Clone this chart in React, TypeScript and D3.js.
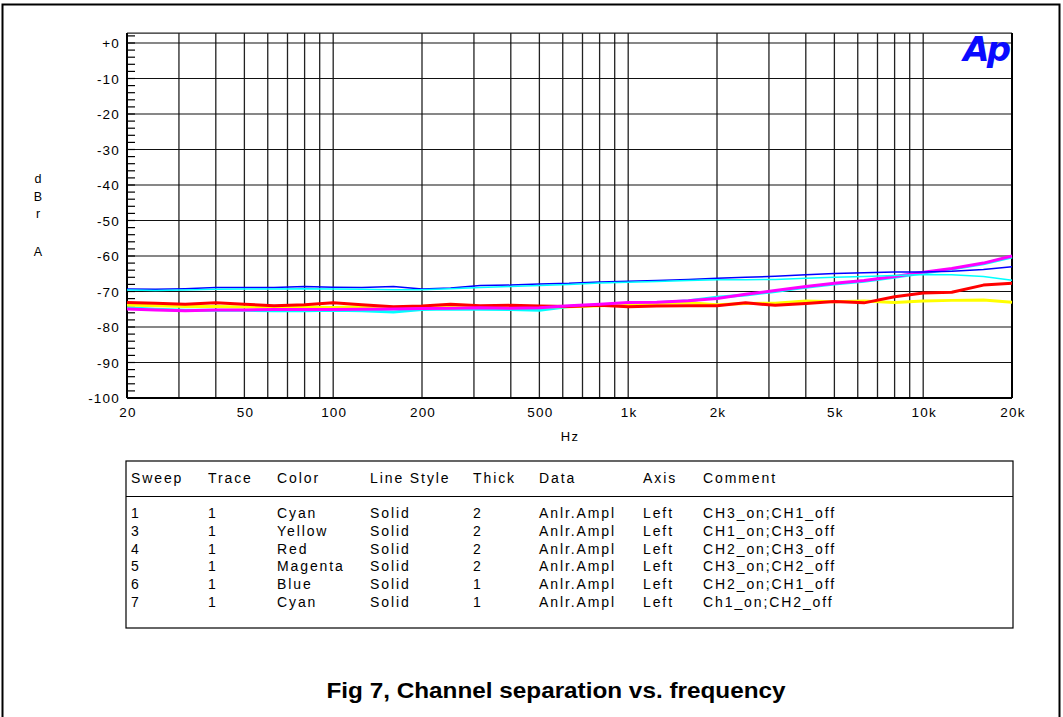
import React from "react";
import * as d3 from "d3";

// Frequencies (Hz), 1/3-octave points
const freqs = [20, 25, 31.5, 40, 50, 63, 80, 100, 125, 160, 200, 250, 315, 400, 500, 630, 800, 1000, 1250, 1600, 2000, 2500, 3150, 4000, 5000, 6300, 8000, 10000, 12500, 16000, 20000];

// Sweep values (dBr A)
const sweep1Cyan = [-74.6, -75.0, -75.3, -75.3, -75.3, -75.4, -75.4, -75.3, -75.4, -75.8, -75.1, -74.9, -75.0, -75.1, -75.3, -74.2, -73.8, -73.3, -73.2, -72.6, -71.6, -71.0, -70.0, -68.8, -67.9, -67.1, -66.0, -64.8, -63.7, -62.2, -60.3];
const sweep3Yellow = [-73.8, -74.0, -74.2, -74.2, -74.4, -74.3, -74.4, -74.5, -74.3, -74.6, -74.4, -74.2, -74.3, -74.3, -74.3, -74.3, -74.0, -73.8, -73.4, -73.2, -73.7, -73.4, -73.3, -72.7, -72.9, -72.7, -73.1, -72.7, -72.5, -72.4, -73.0];
const sweep4Red = [-73.1, -73.3, -73.6, -73.2, -73.6, -74.0, -73.7, -73.2, -73.7, -74.3, -74.1, -73.6, -74.0, -73.9, -74.1, -74.2, -73.9, -74.3, -74.1, -74.0, -74.0, -73.2, -73.9, -73.4, -72.8, -73.2, -71.5, -70.4, -70.2, -68.2, -67.7];
const sweep5Magenta = [-74.9, -75.2, -75.4, -75.2, -75.2, -75.1, -75.1, -75.1, -75.0, -74.9, -74.8, -74.7, -74.6, -74.7, -74.6, -74.0, -73.6, -73.1, -73.0, -72.6, -72.0, -70.8, -69.7, -68.6, -67.7, -66.9, -65.8, -64.6, -63.5, -62.0, -60.0];
const sweep6Blue = [-69.3, -69.4, -69.2, -68.9, -68.9, -68.9, -68.6, -68.8, -68.9, -68.6, -69.3, -69.0, -68.3, -68.2, -67.9, -67.7, -67.3, -67.1, -66.9, -66.6, -66.3, -66.0, -65.7, -65.3, -64.9, -64.7, -64.5, -64.5, -64.3, -63.8, -63.0];
const sweep7Cyan = [-69.6, -69.7, -69.6, -69.4, -69.3, -69.3, -69.2, -69.3, -69.4, -69.5, -69.5, -69.2, -68.9, -68.6, -68.3, -68.0, -67.6, -67.4, -67.2, -66.9, -66.7, -66.7, -66.6, -66.3, -66.0, -65.8, -65.5, -65.2, -65.3, -65.8, -66.8];

// Axis tick labels
const xLabelValues = [20, 50, 100, 200, 500, 1000, 2000, 5000, 10000, 20000];
const xLabelTexts = ["20", "50", "100", "200", "500", "1k", "2k", "5k", "10k", "20k"];
const yLabelValues = [0, -10, -20, -30, -40, -50, -60, -70, -80, -90, -100];
const yLabelTexts = ["+0", "-10", "-20", "-30", "-40", "-50", "-60", "-70", "-80", "-90", "-100"];

// Legend table
const tableHeaders = ["Sweep", "Trace", "Color", "Line Style", "Thick", "Data", "Axis", "Comment"];
const tableSweep = ["1", "3", "4", "5", "6", "7"];
const tableTrace = ["1", "1", "1", "1", "1", "1"];
const tableColor = ["Cyan", "Yellow", "Red", "Magenta", "Blue", "Cyan"];
const tableStyle = ["Solid", "Solid", "Solid", "Solid", "Solid", "Solid"];
const tableThick = ["2", "2", "2", "2", "1", "1"];
const tableData = ["Anlr.Ampl", "Anlr.Ampl", "Anlr.Ampl", "Anlr.Ampl", "Anlr.Ampl", "Anlr.Ampl"];
const tableAxis = ["Left", "Left", "Left", "Left", "Left", "Left"];
const tableComment = ["CH3_on;CH1_off", "CH1_on;CH3_off", "CH2_on;CH3_off", "CH3_on;CH2_off", "CH2_on;CH1_off", "Ch1_on;CH2_off"];

const title = "Fig 7, Channel separation vs. frequency";

export default function App() {
  const W = 1063, H = 717;
  const left = 127, right = 1012, zeroY = 43, bottom = 398;
  const x = d3.scaleLog().domain([20, 20000]).range([left, right]);
  const y = d3.scaleLinear().domain([-100, 0]).range([bottom, zeroY]);
  const top = y(2.8);

  const series = [
    { v: sweep1Cyan, c: "#00FFFF", w: 3 },
    { v: sweep3Yellow, c: "#FFFF00", w: 3 },
    { v: sweep4Red, c: "#FF0000", w: 3 },
    { v: sweep5Magenta, c: "#FF00FF", w: 3 },
    { v: sweep6Blue, c: "#0000FF", w: 1.5 },
    { v: sweep7Cyan, c: "#00FFFF", w: 1.5 },
  ];

  const line = d3
    .line<number>()
    .x((_, i) => x(freqs[i]))
    .y((d) => y(d));

  const gridX = x.ticks();
  const minor = d3.range(-98, 3, 2);
  const font = "'Liberation Sans', Arial, sans-serif";

  const colX = [131, 208, 277, 370, 473, 539, 643, 703];
  const cols = [tableSweep, tableTrace, tableColor, tableStyle, tableThick, tableData, tableAxis, tableComment];
  const rowY0 = 518;
  const rowDy = 17.8;

  return (
    <svg
      width={W}
      height={H}
      style={{ position: "absolute", left: 0, top: 0, background: "#fff" }}
      fontFamily={font}
    >
      <rect x={0} y={0} width={W} height={H} fill="#fff" />
      <rect x={2.5} y={4.5} width={1057} height={730} fill="none" stroke="#000" strokeWidth={2} />

      {/* vertical grid */}
      {gridX.map((f, i) => (
        <line key={"gx" + i} x1={x(f)} x2={x(f)} y1={top} y2={bottom} stroke="#222" strokeWidth={1.3} />
      ))}
      {/* horizontal grid */}
      {yLabelValues.map((v, i) => (
        <line key={"gy" + i} x1={left} x2={right} y1={y(v)} y2={y(v)} stroke="#111" strokeWidth={1.2} />
      ))}
      <line x1={left} x2={right} y1={top} y2={top} stroke="#222" strokeWidth={1.2} />
      {/* minor ticks */}
      {minor.map((v, i) => (
        <line key={"mt" + i} x1={left} x2={left + 8} y1={y(v)} y2={y(v)} stroke="#000" strokeWidth={1.2} />
      ))}
      {/* axes */}
      <line x1={left} x2={left} y1={top} y2={bottom} stroke="#000" strokeWidth={2} />
      <line x1={right} x2={right} y1={top} y2={bottom} stroke="#000" strokeWidth={2} />
      <line x1={left} x2={right} y1={bottom} y2={bottom} stroke="#000" strokeWidth={2} />

      {/* curves */}
      {series.map((s, i) => (
        <path key={"s" + i} d={line(s.v) || ""} fill="none" stroke={s.c} strokeWidth={s.w} strokeLinejoin="round" />
      ))}

      {/* Ap logo */}
      <text x={1008} y={61} textAnchor="end" fontSize={34} fontWeight="900" fontStyle="italic" fill="#0A0AFF" letterSpacing={-3} fontFamily="'DejaVu Sans', 'Liberation Sans', Arial, sans-serif">
        Ap
      </text>

      {/* y labels */}
      {yLabelValues.map((v, i) => (
        <text key={"yl" + i} x={120} y={y(v) + 5} textAnchor="end" fontSize={13.5} letterSpacing={1.2}>
          {yLabelTexts[i]}
        </text>
      ))}
      {/* x labels */}
      {xLabelValues.map((f, i) => (
        <text key={"xl" + i} x={x(f) + 1} y={417} textAnchor="middle" fontSize={13.5} letterSpacing={1.2}>
          {xLabelTexts[i]}
        </text>
      ))}
      <text x={570} y={441} textAnchor="middle" fontSize={13} letterSpacing={1.2}>Hz</text>
      {["d", "B", "r", "", "A"].map((ch, i) =>
        ch ? (
          <text key={"al" + i} x={38} y={183 + i * 17.5 + (i === 4 ? 3 : 0)} textAnchor="middle" fontSize={12.5}>
            {ch}
          </text>
        ) : null
      )}

      {/* legend table */}
      <rect x={126} y={461} width={887} height={167} fill="none" stroke="#000" strokeWidth={1.2} />
      <line x1={126} x2={1013} y1={496.5} y2={496.5} stroke="#000" strokeWidth={1.2} />
      {tableHeaders.map((h, i) => (
        <text key={"th" + i} x={colX[i]} y={483} fontSize={14} letterSpacing={1.9}>
          {h}
        </text>
      ))}
      {cols.map((col, ci) =>
        col.map((t, ri) => (
          <text key={"td" + ci + "_" + ri} x={colX[ci]} y={rowY0 + ri * rowDy} fontSize={14} letterSpacing={1.9}>
            {t}
          </text>
        ))
      )}

      {/* title */}
      <text x={556} y={698} textAnchor="middle" fontSize={22} fontWeight="bold" textLength={459} lengthAdjust="spacingAndGlyphs" fontFamily="'Liberation Sans Narrow', 'Liberation Sans', Arial, sans-serif">
        {title}
      </text>
    </svg>
  );
}
